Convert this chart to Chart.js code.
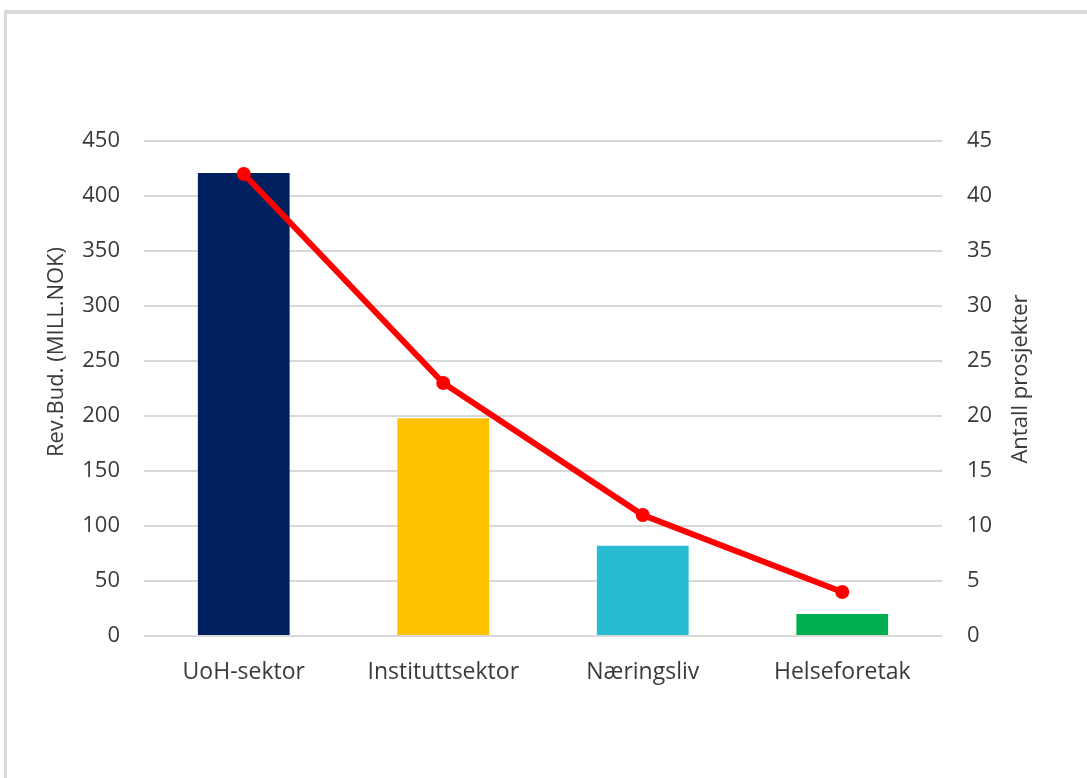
<!DOCTYPE html>
<html>
<head>
<meta charset="utf-8">
<script src="https://cdn.jsdelivr.net/npm/chart.js@4"></script>
<style>
  html, body { margin: 0; padding: 0; background: #ffffff; overflow: hidden; }
  #wrap { position: relative; width: 1087px; height: 778px; }
  #frame {
    position: absolute; left: 4px; top: 10px; width: 2000px; height: 2000px;
    border-top: 4px solid #d9d9d9; border-left: 3px solid #d9d9d9;
    box-sizing: border-box; pointer-events: none;
  }
  canvas { position: absolute; left: 0; top: 0; }
</style>
</head>
<body>
<div id="wrap">
  <canvas id="c" width="1087" height="778"></canvas>
  <div id="frame"></div>
</div>
<script>
// Sectors, revised budget (MNOK) and number of projects
const categories = ['UoH-sektor', 'Instituttsektor', 'Næringsliv', 'Helseforetak'];
const budget = [421, 198, 82, 20];
const projects = [42, 23, 11, 4];
const barColors = ['#002060', '#ffc000', '#27bcd2', '#00b050'];
const leftTitle = 'Rev.Bud. (MILL.NOK)';
const rightTitle = 'Antall prosjekter';

const textColor = '#3a3a3a';
const gridColor = '#d9d9d9';
const fontFamily = '"Open Sans", "Liberation Sans", sans-serif';

// Both axis titles read bottom-to-top, so they are drawn here rather than
// through the scale title option (which turns the right one the other way).
const axisTitles = {
  id: 'axisTitles',
  afterDraw(chart) {
    const ctx = chart.ctx;
    const draw = (text, x, y) => {
      ctx.save();
      ctx.translate(x, y);
      ctx.rotate(-Math.PI / 2);
      ctx.font = '22px ' + fontFamily;
      ctx.fillStyle = textColor;
      ctx.textAlign = 'center';
      ctx.textBaseline = 'middle';
      ctx.fillText(text, 0, 0);
      ctx.restore();
    };
    draw(leftTitle, 57, 352);
    draw(rightTitle, 1021, 379);
  }
};

new Chart(document.getElementById('c'), {
  data: {
    labels: categories,
    datasets: [
      {
        type: 'line',
        data: projects,
        yAxisID: 'y1',
        borderColor: '#ff0000',
        backgroundColor: '#ff0000',
        borderWidth: 6,
        pointRadius: 7,
        pointBorderWidth: 0,
        pointBackgroundColor: '#ff0000',
        tension: 0,
        order: 0
      },
      {
        type: 'bar',
        data: budget,
        yAxisID: 'y',
        backgroundColor: barColors,
        categoryPercentage: 1,
        barPercentage: 0.46,
        order: 1
      }
    ]
  },
  plugins: [axisTitles],
  options: {
    responsive: false,
    animation: false,
    layout: { padding: { top: 141, left: 0, right: 0, bottom: 0 } },
    plugins: { legend: { display: false }, tooltip: { enabled: false } },
    scales: {
      x: {
        grid: { display: false },
        border: { display: false },
        ticks: { color: textColor, font: { family: fontFamily, size: 23 }, padding: 15, maxRotation: 0 },
        afterFit: s => { s.height = 142; }
      },
      y: {
        position: 'left',
        min: 0, max: 450,
        ticks: { stepSize: 50, color: textColor, font: { family: fontFamily, size: 22 }, padding: 24 },
        grid: { color: gridColor, lineWidth: 2, drawTicks: false },
        border: { display: false },
        afterFit: s => { s.width = 144; }
      },
      y1: {
        position: 'right',
        min: 0, max: 45,
        ticks: { stepSize: 5, color: textColor, font: { family: fontFamily, size: 22 }, padding: 25 },
        grid: { display: false, drawTicks: false },
        border: { display: false },
        afterFit: s => { s.width = 145; }
      }
    }
  }
});
</script>
</body>
</html>
